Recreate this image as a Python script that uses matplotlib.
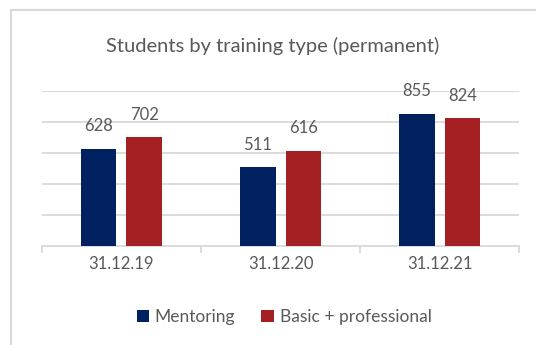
import numpy as np
import matplotlib.pyplot as plt
from matplotlib.patches import Rectangle

plt.rcParams['font.family'] = ['Lato', 'DejaVu Sans']

dates = ['31.12.19', '31.12.20', '31.12.21']
mentoring = [628, 511, 855]
basic_prof = [702, 616, 824]

navy = '#002060'
red = '#A52022'
txt = '#595959'
grid = '#D9D9D9'

fig = plt.figure(figsize=(5.36, 3.45), dpi=100)
ax = fig.add_axes([0.078, 0.287, 0.891, 0.449])

x = np.arange(len(dates))
w = 0.223
off = 0.143
b1 = ax.bar(x - off, mentoring, w, color=navy, label='Mentoring', zorder=3)
b2 = ax.bar(x + off, basic_prof, w, color=red, label='Basic + professional', zorder=3)

for bars in (b1, b2):
    for rect in bars:
        h = rect.get_height()
        ax.annotate(f'{h:.0f}', (rect.get_x() + rect.get_width() / 2, h),
                    xytext=(0, 16), textcoords='offset points',
                    ha='center', va='center', fontsize=12, color=txt)

ax.set_xlim(-0.5, 2.5)
ax.set_ylim(0, 1000)
ax.set_yticks(range(200, 1001, 200))
ax.yaxis.grid(True, color=grid, linewidth=1.3, zorder=0)
ax.tick_params(axis='y', left=False, labelleft=False)

# category boundaries carry the tick marks, labels sit at the centres
ax.set_xticks([-0.5, 0.5, 1.5, 2.5])
ax.set_xticklabels([])
ax.tick_params(axis='x', length=5, width=1.3, color=grid)
for i, d in enumerate(dates):
    ax.text(i, -0.115, d, transform=ax.get_xaxis_transform(),
            ha='center', va='center', fontsize=12, color=txt)

for s in ('top', 'right', 'left'):
    ax.spines[s].set_visible(False)
ax.spines['bottom'].set_color(grid)
ax.spines['bottom'].set_linewidth(1.3)

fig.text(0.509, 0.866, 'Students by training type (permanent)',
         ha='center', va='center', fontsize=14.5, color=txt)

fig.legend(handles=[b1, b2], loc='center', bbox_to_anchor=(0.53, 0.082),
           ncol=2, frameon=False, fontsize=12.5, labelcolor=txt,
           handlelength=0.7, handleheight=0.7, handletextpad=0.35,
           columnspacing=1.5)

# chart frame, running off the right and bottom edges
fig.patches.append(Rectangle((11 / 536, -0.1), 1.2, 1 - 10 / 345 + 0.1,
                             transform=fig.transFigure, fill=False,
                             edgecolor=grid, linewidth=1.5))

fig.savefig('out.png', dpi=100)
